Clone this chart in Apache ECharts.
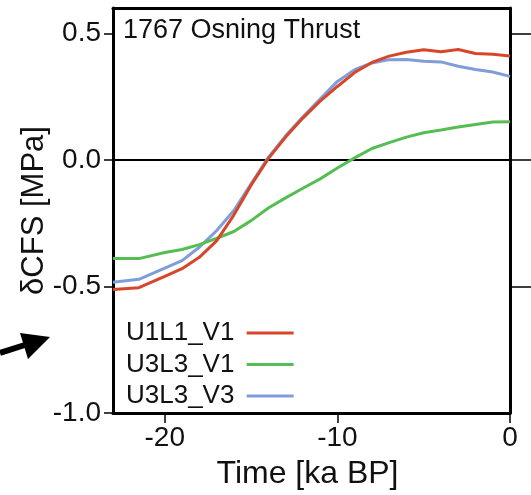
<!DOCTYPE html>
<html>
<head>
<meta charset="utf-8">
<script src="https://cdn.jsdelivr.net/npm/echarts@6/dist/echarts.min.js"></script>
<style>
html,body{margin:0;padding:0;background:#fff;}
#chart{width:531px;height:495px;}
</style>
</head>
<body>
<div id="chart"></div>
<script>
const chartTitle = '1767 Osning Thrust';
const times = [-23, -21.5, -20, -19, -18, -17, -16, -15, -14, -13, -12, -11, -10, -9, -8, -7, -6, -5, -4, -3, -2, -1, 0];
const seriesNames = ['U1L1_V1', 'U3L3_V1', 'U3L3_V3'];
const u1l1v1 = [-0.512, -0.505, -0.46, -0.43, -0.385, -0.32, -0.218, -0.1, 0.005, 0.09, 0.165, 0.232, 0.29, 0.345, 0.385, 0.41, 0.425, 0.435, 0.427, 0.436, 0.42, 0.417, 0.41];
const u3l3v1 = [-0.39, -0.39, -0.366, -0.354, -0.335, -0.31, -0.283, -0.24, -0.19, -0.15, -0.112, -0.075, -0.032, 0.008, 0.045, 0.068, 0.09, 0.107, 0.118, 0.13, 0.14, 0.15, 0.151];
const u3l3v3 = [-0.483, -0.472, -0.428, -0.398, -0.345, -0.28, -0.2, -0.095, 0.01, 0.095, 0.17, 0.24, 0.31, 0.356, 0.383, 0.396, 0.397, 0.39, 0.387, 0.37, 0.357, 0.347, 0.33];
const xTicks = [-20, -10, 0];
const yTicks = [-1.0, -0.5, 0.0, 0.5];
const yRightTicks = [-0.5, 0.0, 0.5];
const colors = ['#d8462a', '#55be52', '#7f9dd8'];

const pairs = arr => times.map((t, i) => [t, arr[i]]);
const allSeries = [u1l1v1, u3l3v1, u3l3v3];

const chart = echarts.init(document.getElementById('chart'), null, {renderer: 'canvas'});
const FONT = 'Liberation Sans, Arial, sans-serif';
chart.setOption({
  animation: false,
  backgroundColor: '#ffffff',
  title: {
    text: chartTitle, left: 118, top: 12,
    textStyle: {fontFamily: FONT, fontSize: 27, fontWeight: 'normal', color: '#111'}
  },
  legend: {
    orient: 'vertical', left: 121, top: 313, align: 'right',
    icon: 'rect', itemWidth: 47, itemHeight: 3, itemGap: 1.5,
    formatter: n => n + ' ',
    textStyle: {fontFamily: FONT, fontSize: 26, color: '#111', lineHeight: 30},
    data: seriesNames
  },
  grid: {left: 113, top: 8, right: 21, bottom: 82, containLabel: false},
  xAxis: [{
    type: 'value', min: -23, max: 0, position: 'bottom',
    name: 'Time [ka BP]', nameLocation: 'middle', nameGap: 45, nameMoveOverlap: false,
    nameTextStyle: {fontFamily: FONT, fontSize: 32, color: '#111', padding: [0, 8, 0, 0]},
    axisLine: {show: true, onZero: false, lineStyle: {color: '#000', width: 3}},
    axisTick: {show: true, inside: false, length: 10, customValues: xTicks, lineStyle: {color: '#000', width: 1.5}},
    axisLabel: {show: true, margin: 11, customValues: xTicks, fontFamily: FONT, fontSize: 28, color: '#111'},
    splitLine: {show: false}
  }, {
    type: 'value', min: -23, max: 0, position: 'top',
    axisLine: {show: true, onZero: false, lineStyle: {color: '#000', width: 3}},
    axisTick: {show: false}, axisLabel: {show: false}, splitLine: {show: false}
  }],
  yAxis: [{
    type: 'value', min: -1.0, max: 0.6, position: 'left',
    name: 'δCFS [MPa]', nameLocation: 'middle', nameGap: 63, nameRotate: 90, nameMoveOverlap: false,
    nameTextStyle: {fontFamily: FONT, fontSize: 31, color: '#111'},
    axisLine: {show: true, onZero: false, lineStyle: {color: '#000', width: 3}},
    axisTick: {show: true, inside: false, length: 9, customValues: yTicks, lineStyle: {color: '#000', width: 1.5}},
    axisLabel: {show: true, margin: 12, customValues: yTicks, fontFamily: FONT, fontSize: 28, color: '#111',
      formatter: v => v.toFixed(1)},
    splitLine: {show: false}
  }, {
    type: 'value', min: -1.0, max: 0.6, position: 'right',
    axisLine: {show: true, onZero: false, lineStyle: {color: '#000', width: 3}},
    axisTick: {show: true, inside: false, length: 25, customValues: yRightTicks, lineStyle: {color: '#000', width: 1.5}},
    axisLabel: {show: false}, splitLine: {show: false}
  }],
  series: seriesNames.map((name, i) => ({
    name: name, type: 'line', xAxisIndex: 0, yAxisIndex: 0,
    data: pairs(allSeries[i]),
    symbol: 'none', smooth: false,
    lineStyle: {color: colors[i], width: 3},
    itemStyle: {color: colors[i]},
    z: 3 - i + 2,
    markLine: i === 0 ? {
      silent: true, symbol: 'none', label: {show: false},
      lineStyle: {color: '#000', width: 1.8, type: 'solid'},
      data: [{yAxis: 0}], z: 1
    } : undefined
  })),
  graphic: [
    {type: 'line', shape: {x1: 0, y1: 353, x2: 28, y2: 344}, style: {stroke: '#000', lineWidth: 6}},
    {type: 'polygon', shape: {points: [[50, 337], [20, 333], [28, 359]]}, style: {fill: '#000'}}
  ]
});
</script>
</body>
</html>
